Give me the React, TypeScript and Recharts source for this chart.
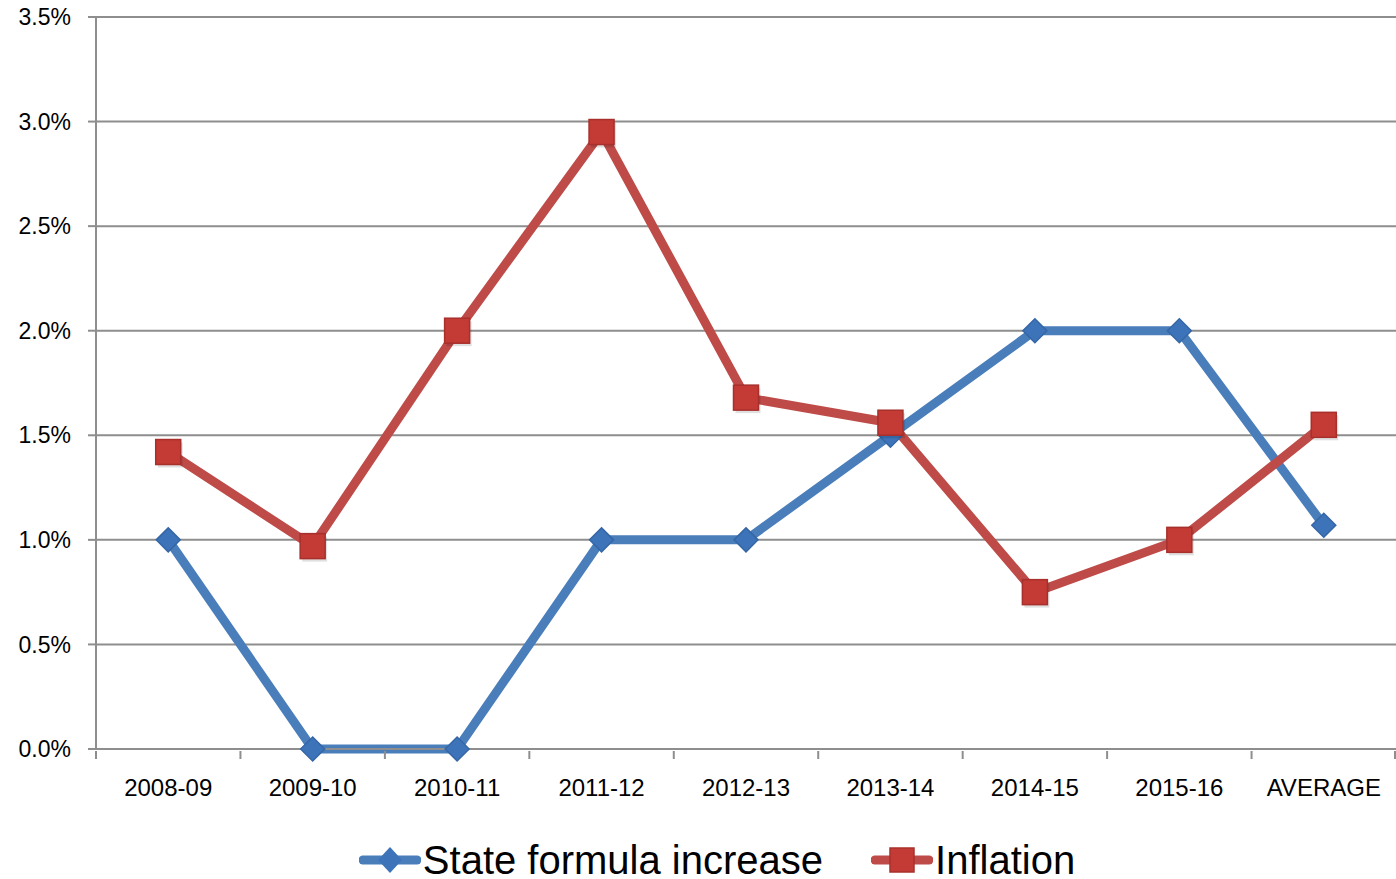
import React from 'react';
import { LineChart, Line, XAxis, YAxis, CartesianGrid, Legend } from 'recharts';

const years = ['2008-09', '2009-10', '2010-11', '2011-12', '2012-13', '2013-14', '2014-15', '2015-16', 'AVERAGE'];
const stateFormula = [1.0, 0, 0, 1.0, 1.0, 1.5, 2.0, 2.0, 1.07];
const inflation = [1.42, 0.97, 2.0, 2.95, 1.68, 1.56, 0.75, 1.0, 1.55];
const yTicks = [0, 0.5, 1.0, 1.5, 2.0, 2.5, 3.0, 3.5];

const BLUE = '#4a7ebb';
const RED = '#be4b48';
const GRID = '#8e8e8e';
const FONT = '"Liberation Sans", Arial, sans-serif';

const data = years.map((year, i) => ({ year, state: stateFormula[i], inflation: inflation[i] }));

// category label plus the small separator marks between bands
const CategoryTick = (props: any) => {
  const { x, y, payload, index } = props;
  const half = payload.offset || 0;
  const isLast = index === years.length - 1;
  return (
    <g>
      <line x1={x - half} y1={y} x2={x - half} y2={y + 8} stroke={GRID} strokeWidth={2} />
      {isLast && <line x1={x + half - 1} y1={y} x2={x + half - 1} y2={y + 8} stroke={GRID} strokeWidth={2} />}
      <text x={x} y={y + 28} dy="0.71em" textAnchor="middle" fill="#000" fontSize={24}>
        {payload.value}
      </text>
    </g>
  );
};

const DiamondDot = (props: any) => {
  const { cx, cy, index } = props;
  if (cx == null || cy == null) return null;
  const r = 12;
  return (
    <g key={`d-${index}`}>
      <path
        d={`M${cx},${cy - r} L${cx + r},${cy} L${cx},${cy + r} L${cx - r},${cy} Z`}
        fill="#3d74b9"
        stroke="#3566a6"
        strokeWidth={1.5}
      />
    </g>
  );
};

const SquareDot = (props: any) => {
  const { cx, cy, index } = props;
  if (cx == null || cy == null) return null;
  const s = 25;
  return (
    <g key={`s-${index}`}>
      <rect x={cx - s / 2 + 2} y={cy - s / 2 + 3} width={s} height={s} fill="rgba(0,0,0,0.12)" />
      <rect x={cx - s / 2} y={cy - s / 2} width={s} height={s} fill="#c43a35" stroke="#a8302c" strokeWidth={1.5} />
    </g>
  );
};

const renderLegend = () => (
  <div style={{ display: 'flex', justifyContent: 'center', alignItems: 'center', height: 44, paddingLeft: 38, fontFamily: FONT, fontSize: 40, color: '#000' }}>
    <svg width={62} height={30} style={{ marginRight: 2 }}>
      <line x1={4} y1={15} x2={58} y2={15} stroke={BLUE} strokeWidth={9} strokeLinecap="round" />
      <path d="M31,2 L43,15 L31,28 L19,15 Z" fill="#3d74b9" />
    </svg>
    <span style={{ marginRight: 48 }}>State formula increase</span>
    <svg width={62} height={30} style={{ marginRight: 2 }}>
      <line x1={4} y1={15} x2={58} y2={15} stroke={RED} strokeWidth={9} strokeLinecap="round" />
      <rect x={19} y={3} width={24} height={24} fill="#c43a35" stroke="#a8302c" strokeWidth={1.5} />
    </svg>
    <span>Inflation</span>
  </div>
);

export default function App() {
  return (
    <div style={{ position: 'absolute', left: 0, top: 0, background: '#fff' }}>
      <LineChart
        width={1396}
        height={879}
        data={data}
        margin={{ top: 17, right: 0, left: 0, bottom: 24 }}
        style={{ fontFamily: FONT }}
      >
        <CartesianGrid vertical={false} stroke={GRID} strokeWidth={2} />
        <XAxis
          dataKey="year"
          scale="band"
          interval={0}
          tickLine={false}
          tickSize={0}
          axisLine={{ stroke: GRID, strokeWidth: 2 }}
          tick={<CategoryTick />}
          height={62}
        />
        <YAxis
          width={96}
          domain={[0, 3.5]}
          ticks={yTicks}
          interval={0}
          tickFormatter={(v: number) => `${v.toFixed(1)}%`}
          tickSize={8}
          tickMargin={17}
          tickLine={{ stroke: GRID, strokeWidth: 2 }}
          axisLine={{ stroke: GRID, strokeWidth: 2 }}
          tick={{ fill: '#000', fontSize: 23 }}
        />
        <Legend
          verticalAlign="bottom"
          height={56}
          content={renderLegend}
          wrapperStyle={{ top: 838, bottom: 'auto', height: 44 }}
        />
        <Line
          dataKey="state"
          name="State formula increase"
          stroke={BLUE}
          strokeWidth={9}
          dot={DiamondDot}
          activeDot={false}
          isAnimationActive={false}
        />
        <Line
          dataKey="inflation"
          name="Inflation"
          stroke={RED}
          strokeWidth={9}
          dot={SquareDot}
          activeDot={false}
          isAnimationActive={false}
        />
      </LineChart>
    </div>
  );
}
